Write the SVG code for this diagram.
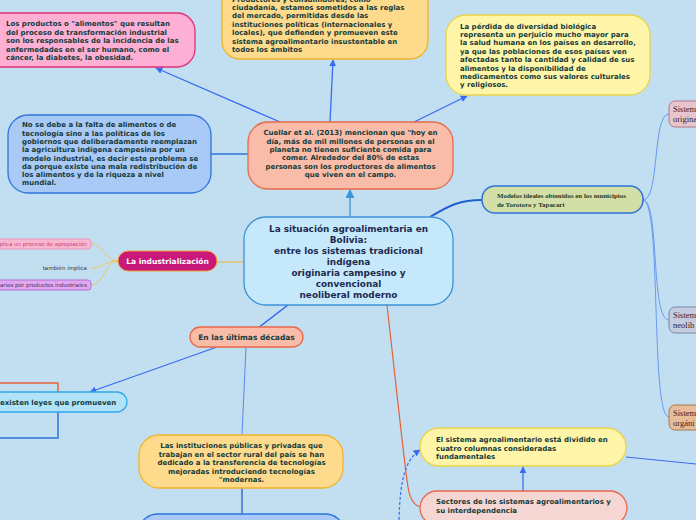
<svg xmlns="http://www.w3.org/2000/svg" width="696" height="520" viewBox="0 0 696 520">
<style>
.t{font-family:"DejaVu Sans",Verdana,sans-serif;font-weight:bold;font-size:7px;fill:#173a3a}
.c{text-anchor:middle}
.ctr{font-family:"DejaVu Sans",Verdana,sans-serif;font-weight:bold;font-size:8.9px;fill:#1d2a50;text-anchor:middle}
.s{font-family:"Liberation Serif","Times New Roman",serif;font-size:8.5px;fill:#3a2228}
.mb{font-family:"Liberation Serif","Times New Roman",serif;font-weight:bold;font-size:6.9px;fill:#2a3a20}
.sm{font-family:"DejaVu Sans",Verdana,sans-serif;font-size:5.5px;text-anchor:end}
.ln{fill:none;stroke:#3a6cf0;stroke-width:1.3}
</style>
<defs>
<marker id="ab" viewBox="0 0 10 10" refX="9" refY="5" markerWidth="7" markerHeight="7" markerUnits="userSpaceOnUse" orient="auto"><path d="M0,0 L10,5 L0,10 z" fill="#3a6cf0"/></marker>
<marker id="al" viewBox="0 0 10 10" refX="9" refY="5" markerWidth="9" markerHeight="9" markerUnits="userSpaceOnUse" orient="auto"><path d="M0,0 L10,5 L0,10 z" fill="#3b93d8"/></marker>
</defs>
<rect width="696" height="520" fill="#c2def1"/>

<g id="connectors">
<line class="ln" x1="280" y1="122" x2="156" y2="68" marker-end="url(#ab)"/>
<line class="ln" x1="330" y1="122" x2="333" y2="60" marker-end="url(#ab)"/>
<line class="ln" x1="414" y1="122" x2="467" y2="96" marker-end="url(#ab)"/>
<line x1="211" y1="154" x2="248" y2="154" stroke="#2f73d9" stroke-width="1.5"/>
<line x1="350" y1="217" x2="350" y2="190" stroke="#3b93d8" stroke-width="1.3" marker-end="url(#al)"/>
<line x1="244" y1="262" x2="217" y2="262" stroke="#f0b030" stroke-width="1"/>
<path d="M118,261 C105,261 104,244 91,244 M118,261 C105,261 104,268 90,268 M118,261 C105,261 104,285 91,285" fill="none" stroke="#f0c860" stroke-width="1"/>
<line x1="288" y1="305" x2="258" y2="328" stroke="#3060f0" stroke-width="1.5"/>
<line class="ln" x1="217" y1="347" x2="90" y2="392" marker-end="url(#ab)"/>
<line x1="246" y1="347" x2="242" y2="435" stroke="#5a8af0" stroke-width="1"/>
<line x1="242" y1="488" x2="242" y2="515" stroke="#2f73d9" stroke-width="1.5"/>
<polyline points="0,383 58,383 58,392" fill="none" stroke="#e8603a" stroke-width="1.5"/>
<polyline points="58,412 58,438 0,438" fill="none" stroke="#2f73d9" stroke-width="1.5"/>
<path d="M387,305 C395,375 405,470 408,487 C410,500 414,505 420,507" fill="none" stroke="#e8603a" stroke-width="1.2"/>
<line class="ln" x1="523" y1="491" x2="523" y2="467" marker-end="url(#ab)"/>
<path d="M399,520 C400,480 405,460 420,450" fill="none" stroke="#3a6cf0" stroke-width="1.2" stroke-dasharray="3,2" marker-end="url(#ab)"/>
<line x1="626" y1="457" x2="696" y2="464" stroke="#3a6cf0" stroke-width="1"/>
<path d="M430,217 C450,205 460,200 482,200" fill="none" stroke="#2060d0" stroke-width="2"/>
<path d="M643,200 C660,200 652,114 669,114 M643,200 C660,200 650,320 669,320 M643,200 C662,200 650,417 669,417" fill="none" stroke="#6a9af0" stroke-width="1"/>
</g>

<g id="n-productos">
<rect x="-20" y="13" width="215" height="54" rx="18" fill="#fdb0d4" stroke="#e0307a" stroke-width="1.3"/>
<text class="t" x="6" y="26">Los productos o &quot;alimentos&quot; que resultan</text>
<text class="t" x="6" y="34.5">del proceso de transformación industrial</text>
<text class="t" x="6" y="43">son los responsables de la incidencia de las</text>
<text class="t" x="6" y="51.5">enfermedades en el ser humano, como el</text>
<text class="t" x="6" y="60">cáncer, la diabetes, la obesidad.</text>
</g>

<g id="n-productores">
<rect x="222" y="-20" width="206" height="79" rx="18" fill="#fedb8c" stroke="#f0b429" stroke-width="1.3"/>
<text class="t" x="232" y="1.5">Productores y consumidores, como</text>
<text class="t" x="232" y="9.5">ciudadanía, estamos sometidos a las reglas</text>
<text class="t" x="232" y="18">del mercado, permitidas desde las</text>
<text class="t" x="232" y="26.5">instituciones políticas (internacionales y</text>
<text class="t" x="232" y="35">locales), que defienden y promueven este</text>
<text class="t" x="232" y="43.5">sistema agroalimentario insustentable en</text>
<text class="t" x="232" y="52">todos los ámbitos</text>
</g>

<g id="n-perdida">
<rect x="446" y="15" width="204" height="80" rx="20" fill="#fff5a8" stroke="#e8d44a" stroke-width="1.3"/>
<text class="t" x="460" y="28.5">La pérdida de diversidad biológica</text>
<text class="t" x="460" y="36.9">representa un perjuicio mucho mayor para</text>
<text class="t" x="460" y="45.3">la salud humana en los países en desarrollo,</text>
<text class="t" x="460" y="53.7">ya que las poblaciones de esos países ven</text>
<text class="t" x="460" y="62.1">afectadas tanto la cantidad y calidad de sus</text>
<text class="t" x="460" y="70.5">alimentos y la disponibilidad de</text>
<text class="t" x="460" y="78.9">medicamentos como sus valores culturales</text>
<text class="t" x="460" y="87.3">y religiosos.</text>
</g>

<g id="n-nosedebe">
<rect x="8" y="115" width="203" height="78" rx="20" fill="#a9c9f7" stroke="#2f73d9" stroke-width="1.3"/>
<text class="t" x="22" y="127.3">No se debe a la falta de alimentos o de</text>
<text class="t" x="22" y="135.6">tecnología sino a las políticas de los</text>
<text class="t" x="22" y="143.9">gobiernos que deliberadamente reemplazan</text>
<text class="t" x="22" y="152.2">la agricultura indígena campesina por un</text>
<text class="t" x="22" y="160.5">modelo industrial, es decir este problema se</text>
<text class="t" x="22" y="168.8">da porque existe una mala redistribución de</text>
<text class="t" x="22" y="177.1">los alimentos y de la riqueza a nivel</text>
<text class="t" x="22" y="185.4">mundial.</text>
</g>

<g id="n-cuellar">
<rect x="248" y="122" width="205" height="67" rx="20" fill="#f9bca8" stroke="#e8684a" stroke-width="1.3"/>
<text class="t c" x="350.5" y="135.3">Cuellar et al. (2013) mencionan que &quot;hoy en</text>
<text class="t c" x="350.5" y="143.6">día, más de mil millones de personas en el</text>
<text class="t c" x="350.5" y="151.9">planeta no tienen suficiente comida para</text>
<text class="t c" x="350.5" y="160.2">comer. Alrededor del 80% de estas</text>
<text class="t c" x="350.5" y="168.5">personas son los productores de alimentos</text>
<text class="t c" x="350.5" y="176.8">que viven en el campo.</text>
</g>

<g id="n-central">
<rect x="244" y="217" width="209" height="88" rx="22" fill="#c5e9fb" stroke="#3b93d8" stroke-width="1.3"/>
<text class="ctr" x="348.5" y="231.7">La situación agroalimentaria en</text>
<text class="ctr" x="348.5" y="242.7">Bolivia:</text>
<text class="ctr" x="348.5" y="253.7">entre los sistemas tradicional</text>
<text class="ctr" x="348.5" y="264.7">indígena</text>
<text class="ctr" x="348.5" y="275.7">originaria campesino y</text>
<text class="ctr" x="348.5" y="286.7">convencional</text>
<text class="ctr" x="348.5" y="297.7">neoliberal moderno</text>
</g>

<g id="n-industrializacion">
<rect x="118" y="251" width="99" height="20" rx="10" fill="#c8187a" stroke="#f0a030" stroke-width="1"/>
<text class="t c" x="167.5" y="264" style="fill:#ffffff;font-size:7.5px">La industrialización</text>
</g>

<g id="n-implica">
<rect x="-10" y="239" width="101" height="10" rx="3" fill="#f8b8d0" stroke="#e898c0" stroke-width="1"/>
<text class="sm" x="87" y="246.2" fill="#c84080">plica un proceso de apropiación</text>
</g>

<g id="n-tambien">
<text class="sm" x="87" y="270" fill="#333a40">también implica</text>
</g>

<g id="n-productos-ind">
<rect x="-10" y="280" width="101" height="10" rx="3" fill="#e0a8f0" stroke="#b070d0" stroke-width="1"/>
<text class="sm" x="87" y="287.2" fill="#503060">arios por productos industriales</text>
</g>

<g id="n-ultimas">
<rect x="190" y="327" width="113" height="20" rx="10" fill="#f9bca8" stroke="#e8684a" stroke-width="1.3"/>
<text class="t c" x="246.5" y="339.5" style="font-size:7.5px">En las últimas décadas</text>
</g>

<g id="n-leyes">
<rect x="-20" y="392" width="147" height="20" rx="10" fill="#b0e2f8" stroke="#30a8e8" stroke-width="1.3"/>
<text class="t" x="0" y="404.5" style="font-size:7px">existen leyes que promueven</text>
</g>

<g id="n-instituciones">
<rect x="139" y="435" width="204" height="53" rx="20" fill="#fedb8c" stroke="#f0b429" stroke-width="1.3"/>
<text class="t c" x="241.5" y="448">Las instituciones públicas y privadas que</text>
<text class="t c" x="241.5" y="456.5">trabajan en el sector rural del país se han</text>
<text class="t c" x="241.5" y="465">dedicado a la transferencia de tecnologías</text>
<text class="t c" x="241.5" y="473.5">mejoradas introduciendo tecnologías</text>
<text class="t c" x="241.5" y="482">&quot;modernas.</text>
</g>

<g id="n-bottom">
<rect x="140" y="514" width="203" height="30" rx="18" fill="#a9c9f7" stroke="#2f73d9" stroke-width="1.3"/>
</g>

<g id="n-sistema">
<rect x="420" y="428" width="206" height="38" rx="19" fill="#fff5a8" stroke="#e8d44a" stroke-width="1.3"/>
<text class="t" x="436" y="442">El sistema agroalimentario está dividido en</text>
<text class="t" x="436" y="450.5">cuatro columnas consideradas</text>
<text class="t" x="436" y="459">fundamentales</text>
</g>

<g id="n-sectores">
<rect x="420" y="491" width="207" height="34" rx="17" fill="#f5d6d2" stroke="#e8684a" stroke-width="1.3"/>
<text class="t" x="436" y="504">Sectores de los sistemas agroalimentarios y</text>
<text class="t" x="436" y="512.5">su interdependencia</text>
</g>

<g id="n-modelos">
<rect x="482" y="186" width="161" height="27" rx="13" fill="#d4dfa8" stroke="#2f73d9" stroke-width="1.5"/>
<text class="mb" x="497" y="198">Modelos ideales obtenidos en los municipios</text>
<text class="mb" x="497" y="206.5">de Torotoro y Tapacari</text>
</g>

<g id="n-originario">
<rect x="669" y="101" width="40" height="26" rx="6" fill="#e8c4cc" stroke="#b07888" stroke-width="1"/>
<text class="s" x="673" y="112">Sistem</text>
<text class="s" x="673" y="122">origina</text>
</g>

<g id="n-neoliberal">
<rect x="669" y="307" width="40" height="26" rx="6" fill="#c4cce0" stroke="#7888a8" stroke-width="1"/>
<text class="s" x="673" y="318">Sistem</text>
<text class="s" x="673" y="328">neolib</text>
</g>

<g id="n-organico">
<rect x="669" y="405" width="40" height="25" rx="6" fill="#e8bc98" stroke="#a87850" stroke-width="1"/>
<text class="s" x="673" y="415.5">Sistem</text>
<text class="s" x="673" y="425.5">orgáni</text>
</g>
</svg>
